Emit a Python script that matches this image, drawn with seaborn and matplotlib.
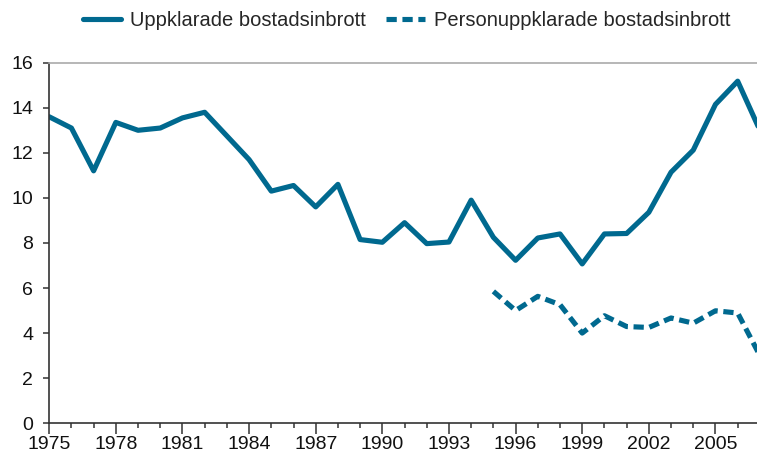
import numpy as np
import pandas as pd
import matplotlib
matplotlib.use('Agg')
import matplotlib.pyplot as plt
import seaborn as sns
from matplotlib.ticker import MultipleLocator

years = list(range(1975, 2008))
uppklarade = [13.6, 13.1, 11.2, 13.35, 13.0, 13.1, 13.55, 13.8, 12.75, 11.7,
              10.3, 10.55, 9.6, 10.6, 8.15, 8.03, 8.9, 7.97, 8.04, 9.9,
              8.25, 7.23, 8.22, 8.4, 7.07, 8.4, 8.42, 9.36, 11.14, 12.12,
              14.15, 15.18, 13.0]
person_years = list(range(1995, 2008))
personuppklarade = [5.85, 5.0, 5.63, 5.26, 4.0, 4.77, 4.29, 4.25, 4.67, 4.44,
                    4.99, 4.89, 3.0]

color = '#00698f'

sns.set_style('ticks')
plt.rcParams['font.family'] = ['Liberation Sans', 'DejaVu Sans']

fig = plt.figure(figsize=(7.57, 4.61), dpi=100)
ax = fig.add_axes([0.065, 0.082, 0.935, 0.782])

df1 = pd.DataFrame({'year': years, 'value': uppklarade})
df2 = pd.DataFrame({'year': person_years, 'value': personuppklarade})

sns.lineplot(data=df1, x='year', y='value', ax=ax, color=color, lw=3.7,
             label='Uppklarade bostadsinbrott')
sns.lineplot(data=df2, x='year', y='value', ax=ax, color=color, lw=3.7,
             label='Personuppklarade bostadsinbrott')
ax.lines[1].set_dashes([2.0, 1.1])

ax.set_xlim(1975, 2006.87)
ax.set_ylim(0, 16)
ax.set_xticks(range(1975, 2007, 3))
ax.xaxis.set_minor_locator(MultipleLocator(1))
ax.set_yticks(range(0, 17, 2))
ax.set_xlabel('')
ax.set_ylabel('')

ax.tick_params(axis='x', which='major', length=8, width=1.1, labelsize=14,
               pad=1, color='#333333', labelcolor='#111111')
ax.tick_params(axis='x', which='minor', length=3.8, width=1.1, color='#333333')
ax.tick_params(axis='y', length=4.5, width=1.1, labelsize=14, pad=7,
               color='#333333', labelcolor='#111111')

ax.spines['right'].set_visible(False)
ax.spines['top'].set_color('#aaaaaa')
ax.spines['top'].set_linewidth(1.2)
for s in ['left', 'bottom']:
    ax.spines[s].set_color('#333333')
    ax.spines[s].set_linewidth(1.2)

ax.get_legend().remove()
handles, labels = ax.get_legend_handles_labels()
fig.legend(handles, labels, loc='center', bbox_to_anchor=(0.537, 0.956),
           ncol=2, frameon=False, fontsize=14.5, handlelength=1.9,
           handletextpad=0.45, columnspacing=1.0, borderpad=0)

fig.savefig('out.png', dpi=100)
